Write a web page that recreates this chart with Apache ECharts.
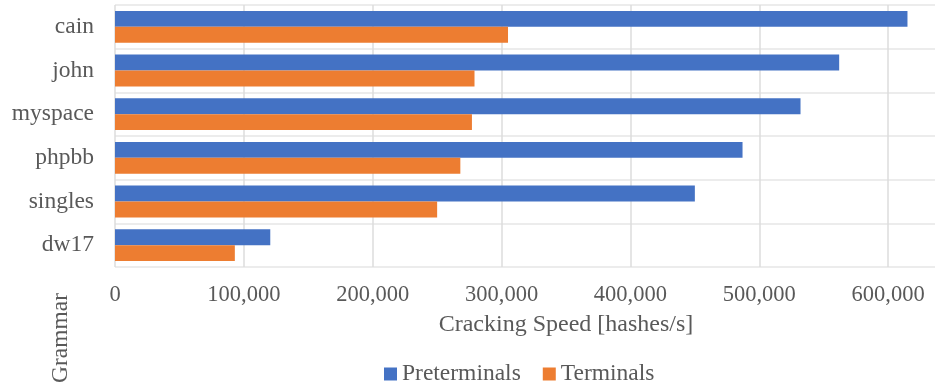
<!DOCTYPE html>
<html><head><meta charset="utf-8">
<script src="https://cdn.jsdelivr.net/npm/echarts@6/dist/echarts.min.js"></script>
<style>html,body{margin:0;padding:0;background:#fff}#c{width:935px;height:386px}</style>
</head><body><div id="c"></div>
<script>
const categories = ["cain", "john", "myspace", "phpbb", "singles", "dw17"];
const preterminals = [615000, 562000, 532000, 487000, 450000, 120500];
const terminals = [305000, 279000, 277000, 268000, 250000, 93000];
const seriesNames = ["Preterminals", "Terminals"];
const xTitle = "Cracking Speed [hashes/s]";
const yTitle = "Grammar";

const font = "'Liberation Serif', 'Times New Roman', serif";
const grey = "#595959";
const chart = echarts.init(document.getElementById('c'));
chart.setOption({
  animation: false,
  textStyle: { fontFamily: font },
  grid: { left: 115, top: 5, bottom: 119, right: -82, containLabel: false, outerBoundsMode: 'none' },
  legend: {
    data: seriesNames, left: 379, top: 357, icon: 'rect', itemWidth: 13, itemHeight: 13, itemGap: 22,
    textStyle: { fontFamily: font, fontSize: 23.5, color: grey }
  },
  xAxis: {
    type: 'value', min: 0, max: 700000, interval: 100000,
    name: xTitle, nameLocation: 'middle', nameGap: 46,
    nameTextStyle: { fontFamily: font, fontSize: 24, color: grey },
    axisLine: { show: false }, axisTick: { show: false },
    axisLabel: { fontFamily: font, fontSize: 22.5, color: grey, margin: 17,
      formatter: v => v.toLocaleString('en-US') },
    splitLine: { show: true, lineStyle: { color: '#dcdcdc', width: 1.5 } }
  },
  yAxis: {
    type: 'category', data: categories, inverse: true,
    axisLine: { show: false }, axisTick: { show: false },
    axisLabel: { fontFamily: font, fontSize: 23.5, color: grey, margin: 21 },
    splitLine: { show: true, lineStyle: { color: '#e6e6e6', width: 1.5 } }
  },
  graphic: [{
    type: 'text', x: 61, y: 338, rotation: Math.PI / 2,
    style: { text: yTitle, font: "23.5px " + font, fill: grey, align: 'center', verticalAlign: 'middle' }
  }],
  series: [
    { name: seriesNames[0], type: 'bar', data: preterminals, barGap: '0%', barCategoryGap: '27%',
      itemStyle: { color: '#4472C4' } },
    { name: seriesNames[1], type: 'bar', data: terminals, barGap: '0%', barCategoryGap: '27%',
      itemStyle: { color: '#ED7D31' } }
  ]
});
</script></body></html>
